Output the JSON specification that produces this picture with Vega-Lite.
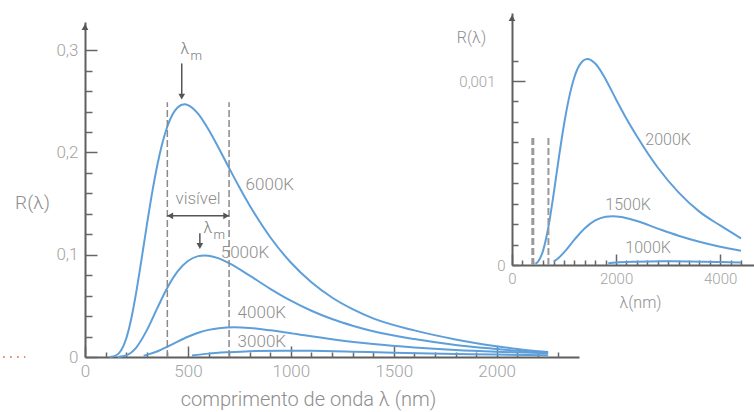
{
  "$schema": "https://vega.github.io/schema/vega-lite/v6.json",
  "width": 754,
  "height": 412,
  "autosize": "none",
  "padding": 0,
  "background": "white",
  "config": {
    "view": {"stroke": null},
    "axis": {"grid": false, "labelFont": "Roboto", "titleFont": "Roboto", "labelColor": "#a3a3a3", "titleColor": "#8e8e8e", "domainColor": "#5f5f5f", "tickColor": "#666666", "domainWidth": 2, "tickWidth": 1.5, "labelFlush": false, "labelOverlap": false, "titleFontWeight": 300, "labelFontWeight": 300},
    "text": {"font": "Roboto", "fontWeight": 300, "color": "#8e8e8e"}
  },
  "datasets": {
    "main": [
      {"T": "6000K", "lambda": 120, "R": 0.0001}, {"T": "6000K", "lambda": 150, "R": 0.0014}, {"T": "6000K", "lambda": 175, "R": 0.0063}, {"T": "6000K", "lambda": 200, "R": 0.0179}, {"T": "6000K", "lambda": 225, "R": 0.0377}, {"T": "6000K", "lambda": 250, "R": 0.0646}, {"T": "6000K", "lambda": 275, "R": 0.0959}, {"T": "6000K", "lambda": 300, "R": 0.1285}, {"T": "6000K", "lambda": 325, "R": 0.1593}, {"T": "6000K", "lambda": 350, "R": 0.1863}, {"T": "6000K", "lambda": 375, "R": 0.2084}, {"T": "6000K", "lambda": 400, "R": 0.2253}, {"T": "6000K", "lambda": 425, "R": 0.237}, {"T": "6000K", "lambda": 450, "R": 0.244}, {"T": "6000K", "lambda": 483, "R": 0.247}, {"T": "6000K", "lambda": 500, "R": 0.2463}, {"T": "6000K", "lambda": 525, "R": 0.243}, {"T": "6000K", "lambda": 550, "R": 0.2376}, {"T": "6000K", "lambda": 600, "R": 0.2224}, {"T": "6000K", "lambda": 650, "R": 0.2041}, {"T": "6000K", "lambda": 700, "R": 0.1848}, {"T": "6000K", "lambda": 750, "R": 0.1659}, {"T": "6000K", "lambda": 800, "R": 0.1481}, {"T": "6000K", "lambda": 900, "R": 0.1171}, {"T": "6000K", "lambda": 1000, "R": 0.0924}, {"T": "6000K", "lambda": 1100, "R": 0.0731}, {"T": "6000K", "lambda": 1200, "R": 0.0582}, {"T": "6000K", "lambda": 1300, "R": 0.0468}, {"T": "6000K", "lambda": 1400, "R": 0.0378}, {"T": "6000K", "lambda": 1600, "R": 0.026}, {"T": "6000K", "lambda": 1800, "R": 0.0172}, {"T": "6000K", "lambda": 2000, "R": 0.0105}, {"T": "6000K", "lambda": 2100, "R": 0.0078}, {"T": "6000K", "lambda": 2250, "R": 0.0048},
      {"T": "5000K", "lambda": 160, "R": 0.0001}, {"T": "5000K", "lambda": 200, "R": 0.0016}, {"T": "5000K", "lambda": 250, "R": 0.0095}, {"T": "5000K", "lambda": 300, "R": 0.026}, {"T": "5000K", "lambda": 350, "R": 0.0473}, {"T": "5000K", "lambda": 400, "R": 0.0678}, {"T": "5000K", "lambda": 450, "R": 0.0838}, {"T": "5000K", "lambda": 500, "R": 0.0939}, {"T": "5000K", "lambda": 550, "R": 0.0986}, {"T": "5000K", "lambda": 580, "R": 0.0993}, {"T": "5000K", "lambda": 600, "R": 0.099}, {"T": "5000K", "lambda": 650, "R": 0.0964}, {"T": "5000K", "lambda": 700, "R": 0.0917}, {"T": "5000K", "lambda": 800, "R": 0.0795}, {"T": "5000K", "lambda": 900, "R": 0.0667}, {"T": "5000K", "lambda": 1000, "R": 0.0551}, {"T": "5000K", "lambda": 1100, "R": 0.0452}, {"T": "5000K", "lambda": 1200, "R": 0.0371}, {"T": "5000K", "lambda": 1300, "R": 0.0306}, {"T": "5000K", "lambda": 1400, "R": 0.0252}, {"T": "5000K", "lambda": 1600, "R": 0.0175}, {"T": "5000K", "lambda": 1800, "R": 0.0118}, {"T": "5000K", "lambda": 2000, "R": 0.0078}, {"T": "5000K", "lambda": 2100, "R": 0.006}, {"T": "5000K", "lambda": 2250, "R": 0.004},
      {"T": "4000K", "lambda": 285, "R": 0.0012}, {"T": "4000K", "lambda": 300, "R": 0.0021}, {"T": "4000K", "lambda": 350, "R": 0.0054}, {"T": "4000K", "lambda": 400, "R": 0.01}, {"T": "4000K", "lambda": 450, "R": 0.0151}, {"T": "4000K", "lambda": 500, "R": 0.0198}, {"T": "4000K", "lambda": 550, "R": 0.0237}, {"T": "4000K", "lambda": 600, "R": 0.0265}, {"T": "4000K", "lambda": 650, "R": 0.0282}, {"T": "4000K", "lambda": 725, "R": 0.029}, {"T": "4000K", "lambda": 800, "R": 0.0284}, {"T": "4000K", "lambda": 900, "R": 0.0261}, {"T": "4000K", "lambda": 1000, "R": 0.0232}, {"T": "4000K", "lambda": 1200, "R": 0.0174}, {"T": "4000K", "lambda": 1400, "R": 0.0127}, {"T": "4000K", "lambda": 1600, "R": 0.0093}, {"T": "4000K", "lambda": 1800, "R": 0.0068}, {"T": "4000K", "lambda": 2000, "R": 0.0051}, {"T": "4000K", "lambda": 2250, "R": 0.0036},
      {"T": "3000K", "lambda": 520, "R": 0.0014}, {"T": "3000K", "lambda": 600, "R": 0.0033}, {"T": "3000K", "lambda": 700, "R": 0.0047}, {"T": "3000K", "lambda": 800, "R": 0.0057}, {"T": "3000K", "lambda": 966, "R": 0.0062}, {"T": "3000K", "lambda": 1100, "R": 0.006}, {"T": "3000K", "lambda": 1300, "R": 0.0052}, {"T": "3000K", "lambda": 1500, "R": 0.0042}, {"T": "3000K", "lambda": 1800, "R": 0.003}, {"T": "3000K", "lambda": 2000, "R": 0.0024}, {"T": "3000K", "lambda": 2250, "R": 0.0017}
    ],
    "inset": [
      {"T": "2000K", "lambda": 450, "R": 0.000006}, {"T": "2000K", "lambda": 500, "R": 0.000018}, {"T": "2000K", "lambda": 600, "R": 0.000081}, {"T": "2000K", "lambda": 700, "R": 0.000208}, {"T": "2000K", "lambda": 800, "R": 0.000386}, {"T": "2000K", "lambda": 900, "R": 0.000583}, {"T": "2000K", "lambda": 1000, "R": 0.000765}, {"T": "2000K", "lambda": 1100, "R": 0.000914}, {"T": "2000K", "lambda": 1200, "R": 0.001022}, {"T": "2000K", "lambda": 1300, "R": 0.001088}, {"T": "2000K", "lambda": 1449, "R": 0.00112}, {"T": "2000K", "lambda": 1600, "R": 0.001095}, {"T": "2000K", "lambda": 1800, "R": 0.001009}, {"T": "2000K", "lambda": 2000, "R": 0.0009}, {"T": "2000K", "lambda": 2200, "R": 0.000795}, {"T": "2000K", "lambda": 2400, "R": 0.0007}, {"T": "2000K", "lambda": 2800, "R": 0.00053}, {"T": "2000K", "lambda": 3200, "R": 0.000395}, {"T": "2000K", "lambda": 3600, "R": 0.00029}, {"T": "2000K", "lambda": 4000, "R": 0.000215}, {"T": "2000K", "lambda": 4400, "R": 0.000145},
      {"T": "1500K", "lambda": 800, "R": 0.000019}, {"T": "1500K", "lambda": 900, "R": 0.00004}, {"T": "1500K", "lambda": 1000, "R": 0.000069}, {"T": "1500K", "lambda": 1200, "R": 0.000138}, {"T": "1500K", "lambda": 1400, "R": 0.0002}, {"T": "1500K", "lambda": 1600, "R": 0.000242}, {"T": "1500K", "lambda": 1800, "R": 0.000262}, {"T": "1500K", "lambda": 1932, "R": 0.000265}, {"T": "1500K", "lambda": 2100, "R": 0.000261}, {"T": "1500K", "lambda": 2400, "R": 0.000239}, {"T": "1500K", "lambda": 2800, "R": 0.000198}, {"T": "1500K", "lambda": 3200, "R": 0.000159}, {"T": "1500K", "lambda": 3600, "R": 0.000126}, {"T": "1500K", "lambda": 4000, "R": 0.000099}, {"T": "1500K", "lambda": 4400, "R": 0.000078},
      {"T": "1000K", "lambda": 1850, "R": 0.00001}, {"T": "1000K", "lambda": 2000, "R": 0.000014}, {"T": "1000K", "lambda": 2400, "R": 0.000018}, {"T": "1000K", "lambda": 2900, "R": 0.00002}, {"T": "1000K", "lambda": 3400, "R": 0.000019}, {"T": "1000K", "lambda": 4000, "R": 0.000016}, {"T": "1000K", "lambda": 4400, "R": 0.000014}
    ],
    "mainDash": [{"lambda": 400, "R": 0, "R2": 0.249}, {"lambda": 700, "R": 0, "R2": 0.249}],
    "mainArrowV": [{"lambda": 470, "R": 0.287, "R2": 0.254}, {"lambda": 558, "R": 0.121, "R2": 0.108}],
    "mainArrowH": [{"lambda": 400, "lambda2": 700, "R": 0.138}],
    "mainHeads": [{"lambda": 470, "R": 0.2545, "dir": "down"}, {"lambda": 558, "R": 0.1085, "dir": "down"}, {"lambda": 414, "R": 0.138, "dir": "left"}, {"lambda": 686, "R": 0.138, "dir": "right"}, {"lambda": 0, "R": 0.3226, "dir": "up"}],
    "mainLabels": [{"lambda": 898, "R": 0.168, "label": "6000K"}, {"lambda": 777, "R": 0.1017, "label": "5000K"}, {"lambda": 859, "R": 0.043, "label": "4000K"}, {"lambda": 859, "R": 0.0147, "label": "3000K"}, {"lambda": 549, "R": 0.154, "label": "visível"}],
    "lam": [{"lambda": 485, "R": 0.301, "label": "λ"}, {"lambda": 597, "R": 0.126, "label": "λ"}],
    "sub": [{"lambda": 540, "R": 0.294, "label": "m"}, {"lambda": 652, "R": 0.1195, "label": "m"}],
    "dots": [{"lambda": -398, "lambda2": -290, "R": 0}],
    "insetDash": [{"lambda": 400, "R": 0, "R2": 0.00069, "w": "a"}, {"lambda": 700, "R": 0, "R2": 0.00069, "w": "b"}],
    "insetHeads": [{"lambda": 0, "R": 0.001342, "dir": "up"}],
    "insetLabels": [{"lambda": 3000, "R": 0.00068, "label": "2000K"}, {"lambda": 2230, "R": 0.000326, "label": "1500K"}, {"lambda": 2615, "R": 0.0000924, "label": "1000K"}]
  },
  "layer": [
    {
      "data": {"name": "main"},
      "mark": {"type": "line", "interpolate": "monotone", "color": "#5e9fda", "strokeWidth": 2},
      "encoding": {
        "x": {"field": "lambda", "type": "quantitative", "scale": {"domain": [0, 2400], "range": [85, 579], "nice": false, "zero": false},
          "axis": {"orient": "bottom", "offset": -55, "values": [0, 500, 1000, 1500, 2000],
            "labelExpr": "format(datum.value, 'd')", "tickSize": -11, "labelPadding": 17, "labelFontSize": 17,
            "title": "comprimento de onda  λ (nm)", "titleFontSize": 20, "titleX": 308, "titleY": 48, "titleAlign": "center", "titleBaseline": "alphabetic", "titleAngle": 0}},
        "y": {"field": "R", "type": "quantitative", "scale": {"domain": [0, 0.3275], "range": [357, 22], "nice": false, "zero": false},
          "axis": {"orient": "left", "offset": -85, "values": [0, 0.1, 0.2, 0.3],
            "labelExpr": "replace(format(datum.value, '.1~f'), '.', ',')", "tickSize": -12, "labelPadding": 19, "labelFontSize": 17,
            "title": "R(λ)", "titleFontSize": 19, "titleX": -53, "titleY": 202, "titleAlign": "center", "titleBaseline": "middle", "titleAngle": 0}},
        "detail": {"field": "T"}
      }
    },
    {
      "data": {"name": "mainDash"},
      "mark": {"type": "rule", "color": "#8a8a8a", "strokeWidth": 1.5, "strokeDash": [7, 3]},
      "encoding": {
        "x": {"field": "lambda", "type": "quantitative", "scale": {"domain": [0, 2400], "range": [85, 579], "nice": false, "zero": false},
          "axis": {"orient": "bottom", "offset": -55, "values": [100, 200, 300, 400, 600, 700, 800, 900, 1100, 1200, 1300, 1400, 1600, 1700, 1800, 1900, 2100, 2200, 2300],
            "tickSize": -5, "labels": false, "domain": false, "title": null}},
        "y": {"field": "R", "type": "quantitative", "scale": {"domain": [0, 0.3275], "range": [357, 22], "nice": false, "zero": false},
          "axis": {"orient": "left", "offset": -85, "values": [0.02, 0.04, 0.06, 0.08, 0.12, 0.14, 0.16, 0.18, 0.22, 0.24, 0.26, 0.28],
            "tickSize": -7, "labels": false, "domain": false, "title": null}},
        "y2": {"field": "R2"}
      }
    },
    {
      "data": {"name": "mainArrowV"},
      "mark": {"type": "rule", "color": "#555555", "strokeWidth": 1.5},
      "encoding": {
        "x": {"field": "lambda", "type": "quantitative", "scale": {"domain": [0, 2400], "range": [85, 579], "nice": false, "zero": false}, "axis": null},
        "y": {"field": "R", "type": "quantitative", "scale": {"domain": [0, 0.3275], "range": [357, 22], "nice": false, "zero": false}, "axis": null},
        "y2": {"field": "R2"}
      }
    },
    {
      "data": {"name": "mainArrowH"},
      "mark": {"type": "rule", "color": "#555555", "strokeWidth": 1.5},
      "encoding": {
        "x": {"field": "lambda", "type": "quantitative", "scale": {"domain": [0, 2400], "range": [85, 579], "nice": false, "zero": false}, "axis": null},
        "x2": {"field": "lambda2"},
        "y": {"field": "R", "type": "quantitative", "scale": {"domain": [0, 0.3275], "range": [357, 22], "nice": false, "zero": false}, "axis": null}
      }
    },
    {
      "data": {"name": "dots"},
      "mark": {"type": "rule", "color": "#d4622c", "strokeWidth": 1.6, "strokeDash": [1.6, 5.4]},
      "encoding": {
        "x": {"field": "lambda", "type": "quantitative", "scale": {"domain": [0, 2400], "range": [85, 579], "nice": false, "zero": false}, "axis": null},
        "x2": {"field": "lambda2"},
        "y": {"field": "R", "type": "quantitative", "scale": {"domain": [0, 0.3275], "range": [357, 22], "nice": false, "zero": false}, "axis": null}
      }
    },
    {
      "data": {"name": "mainHeads"},
      "mark": {"type": "point", "filled": true, "color": "#555555", "opacity": 1, "size": 45},
      "encoding": {
        "x": {"field": "lambda", "type": "quantitative", "scale": {"domain": [0, 2400], "range": [85, 579], "nice": false, "zero": false}, "axis": null},
        "y": {"field": "R", "type": "quantitative", "scale": {"domain": [0, 0.3275], "range": [357, 22], "nice": false, "zero": false}, "axis": null},
        "shape": {"field": "dir", "type": "nominal", "scale": {"domain": ["down", "left", "right", "up"], "range": ["triangle-down", "triangle-left", "triangle-right", "triangle-up"]}, "legend": null}
      }
    },
    {
      "data": {"name": "mainLabels"},
      "mark": {"type": "text", "fontSize": 17, "align": "center", "baseline": "middle"},
      "encoding": {
        "x": {"field": "lambda", "type": "quantitative", "scale": {"domain": [0, 2400], "range": [85, 579], "nice": false, "zero": false}, "axis": null},
        "y": {"field": "R", "type": "quantitative", "scale": {"domain": [0, 0.3275], "range": [357, 22], "nice": false, "zero": false}, "axis": null},
        "text": {"field": "label"}
      }
    },
    {
      "data": {"name": "lam"},
      "mark": {"type": "text", "fontSize": 16, "align": "center", "baseline": "middle", "color": "#7a7a7a"},
      "encoding": {
        "x": {"field": "lambda", "type": "quantitative", "scale": {"domain": [0, 2400], "range": [85, 579], "nice": false, "zero": false}, "axis": null},
        "y": {"field": "R", "type": "quantitative", "scale": {"domain": [0, 0.3275], "range": [357, 22], "nice": false, "zero": false}, "axis": null},
        "text": {"field": "label"}
      }
    },
    {
      "data": {"name": "sub"},
      "mark": {"type": "text", "fontSize": 13, "align": "center", "baseline": "middle", "color": "#7a7a7a"},
      "encoding": {
        "x": {"field": "lambda", "type": "quantitative", "scale": {"domain": [0, 2400], "range": [85, 579], "nice": false, "zero": false}, "axis": null},
        "y": {"field": "R", "type": "quantitative", "scale": {"domain": [0, 0.3275], "range": [357, 22], "nice": false, "zero": false}, "axis": null},
        "text": {"field": "label"}
      }
    },
    {
      "data": {"name": "inset"},
      "mark": {"type": "line", "interpolate": "monotone", "color": "#5e9fda", "strokeWidth": 2},
      "encoding": {
        "x": {"field": "lambda", "type": "quantitative", "scale": {"domain": [0, 4650], "range": [512, 754], "nice": false, "zero": false},
          "axis": {"orient": "bottom", "offset": -147, "values": [0, 2000, 4000],
            "labelExpr": "format(datum.value, 'd')", "tickSize": -11, "labelPadding": 17, "labelFontSize": 15,
            "title": "λ(nm)", "titleFontSize": 16, "titleX": 640, "titleY": 37, "titleAlign": "center", "titleBaseline": "middle", "titleAngle": 0}},
        "y": {"field": "R", "type": "quantitative", "scale": {"domain": [0, 0.00137], "range": [265, 13], "nice": false, "zero": false},
          "axis": {"orient": "left", "offset": -512, "values": [0.001],
            "labelExpr": "'0,001'", "tickSize": -13, "labelPadding": 30, "labelFontSize": 15,
            "title": "R(λ)", "titleFontSize": 16, "titleX": -41, "titleY": 37, "titleAlign": "center", "titleBaseline": "middle", "titleAngle": 0}},
        "detail": {"field": "T"}
      }
    },
    {
      "data": {"name": "insetDash"},
      "mark": {"type": "rule", "color": "#999999", "strokeDash": [7, 3]},
      "encoding": {
        "x": {"field": "lambda", "type": "quantitative", "scale": {"domain": [0, 4650], "range": [512, 754], "nice": false, "zero": false},
          "axis": {"orient": "bottom", "offset": -147, "values": [200, 400, 600, 800, 1000, 1200, 1400, 1600, 1800, 2200, 2400, 2600, 2800, 3000, 3200, 3400, 3600, 3800, 4200, 4400],
            "tickSize": -5, "labels": false, "domain": false, "title": null}},
        "y": {"field": "R", "type": "quantitative", "scale": {"domain": [0, 0.00137], "range": [265, 13], "nice": false, "zero": false},
          "axis": {"orient": "left", "offset": -512, "values": [0, 0.0001111, 0.0002222, 0.0003333, 0.0004444, 0.0005556, 0.0006667, 0.0007778, 0.0008889, 0.0011111],
            "labelExpr": "datum.value == 0 ? '0' : ''", "tickSize": -6, "labelPadding": 13, "labelFontSize": 15, "domain": false, "title": null}},
        "y2": {"field": "R2"},
        "strokeWidth": {"field": "w", "type": "nominal", "scale": {"domain": ["a", "b"], "range": [3, 2]}, "legend": null}
      }
    },
    {
      "data": {"name": "insetHeads"},
      "mark": {"type": "point", "filled": true, "color": "#555555", "opacity": 1, "size": 45, "shape": "triangle-up"},
      "encoding": {
        "x": {"field": "lambda", "type": "quantitative", "scale": {"domain": [0, 4650], "range": [512, 754], "nice": false, "zero": false}, "axis": null},
        "y": {"field": "R", "type": "quantitative", "scale": {"domain": [0, 0.00137], "range": [265, 13], "nice": false, "zero": false}, "axis": null}
      }
    },
    {
      "data": {"name": "insetLabels"},
      "mark": {"type": "text", "fontSize": 16, "align": "center", "baseline": "middle"},
      "encoding": {
        "x": {"field": "lambda", "type": "quantitative", "scale": {"domain": [0, 4650], "range": [512, 754], "nice": false, "zero": false}, "axis": null},
        "y": {"field": "R", "type": "quantitative", "scale": {"domain": [0, 0.00137], "range": [265, 13], "nice": false, "zero": false}, "axis": null},
        "text": {"field": "label"}
      }
    }
  ],
  "resolve": {"scale": {"x": "independent", "y": "independent"}}
}
